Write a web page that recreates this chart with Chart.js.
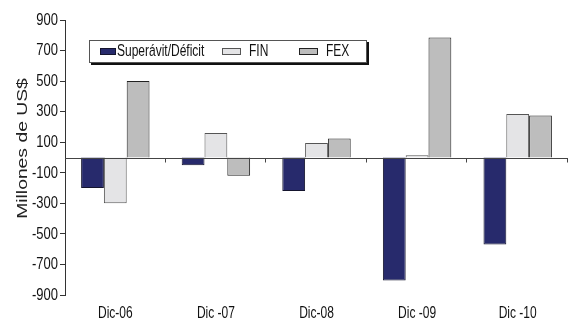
<!DOCTYPE html>
<html>
<head>
<meta charset="utf-8">
<script src="https://cdn.jsdelivr.net/npm/chart.js@4"></script>
<style>
  html, body { margin: 0; padding: 0; background: #fff; }
  #wrap { width: 574px; height: 324px; position: relative; }
</style>
</head>
<body>
<div id="wrap"><canvas id="bars"></canvas></div>
<script>
const categories = ['Dic-06', 'Dic -07', 'Dic-08', 'Dic -09', 'Dic -10'];
const superavit = [-200, -50, -220, -805, -570];
const fin = [-300, 160, 95, 15, 285];
const fex = [500, -120, 125, 785, 275];
const yTicks = [-900, -700, -500, -300, -100, 100, 300, 500, 700, 900];

const FONT = "'Liberation Sans', Arial, sans-serif";
const TALL = 1.32; // letters are drawn a bit taller than wide

// draws text stretched vertically around (x, y)
function tallText(ctx, text, x, y, size, align) {
  ctx.save();
  ctx.translate(x, y);
  ctx.scale(1, TALL);
  ctx.font = size + 'px ' + FONT;
  ctx.textAlign = align;
  ctx.textBaseline = 'middle';
  ctx.fillText(text, 0, 0);
  ctx.restore();
}

// zero line with the little category ticks under it
const zeroLine = {
  id: 'zeroLine',
  afterDatasetsDraw(chart) {
    const ctx = chart.ctx, x = chart.scales.x, y = chart.scales.y;
    const y0 = Math.round(y.getPixelForValue(0)) + 0.5;
    const step = (x.right - x.left) / categories.length;
    ctx.save();
    ctx.strokeStyle = '#444';
    ctx.lineWidth = 1;
    ctx.beginPath();
    ctx.moveTo(x.left, y0);
    ctx.lineTo(x.right, y0);
    for (let i = 1; i <= categories.length; i++) {
      const bx = Math.round(x.left + i * step) - 0.5;
      ctx.moveTo(bx, y0);
      ctx.lineTo(bx, y0 + 4);
    }
    ctx.stroke();
    ctx.restore();
  }
};

// axis labels and the y title
const axisText = {
  id: 'axisText',
  afterDraw(chart) {
    const ctx = chart.ctx, x = chart.scales.x, y = chart.scales.y;
    ctx.save();
    ctx.fillStyle = '#111';
    y.ticks.forEach(t => tallText(ctx, String(t.value), y.right - 7, y.getPixelForValue(t.value), 13, 'right'));
    categories.forEach((c, i) => tallText(ctx, x.getLabelForValue(i), x.getPixelForValue(i), 314, 12, 'center'));

    ctx.translate(23, (y.top + y.bottom) / 2 - 9);
    ctx.rotate(-Math.PI / 2);
    ctx.scale(1.38, 1);
    ctx.font = '14px ' + FONT;
    ctx.fillStyle = '#222';
    ctx.textAlign = 'center';
    ctx.textBaseline = 'middle';
    ctx.fillText('Millones de US$', 0, 0);
    ctx.restore();
  }
};

// boxed legend sitting inside the plot area
const boxLegend = {
  id: 'boxLegend',
  afterDraw(chart) {
    const ctx = chart.ctx, area = chart.chartArea;
    const left = area.left + 24, top = 40, w = 278, h = 23;
    const cols = [11, 133, 210];
    ctx.save();
    ctx.fillStyle = '#111';
    ctx.fillRect(left + 2, top + 2, w, h);
    ctx.fillStyle = '#fff';
    ctx.fillRect(left, top, w, h);
    ctx.strokeStyle = '#555';
    ctx.lineWidth = 1;
    ctx.strokeRect(left + 0.5, top + 0.5, w - 1, h - 1);
    chart.data.datasets.forEach((ds, i) => {
      const sx = left + cols[i], sy = top + 8;
      const sw = i === 0 ? 16 : 19;
      ctx.fillStyle = ds.backgroundColor;
      ctx.fillRect(sx, sy, sw, 7);
      ctx.strokeStyle = ds.borderColor;
      ctx.strokeRect(sx + 0.5, sy + 0.5, sw - 1, 6);
      ctx.fillStyle = '#111';
      tallText(ctx, ds.label, sx + sw + (i === 0 ? 1 : 8), top + h / 2, 12, 'left');
    });
    ctx.restore();
  }
};

new Chart(document.getElementById('bars'), {
  type: 'bar',
  data: {
    labels: categories,
    datasets: [
      { label: 'Superávit/Déficit', data: superavit, backgroundColor: '#272a6c', borderColor: '#15152e' },
      { label: 'FIN', data: fin, backgroundColor: '#e4e4e6', borderColor: '#555' },
      { label: 'FEX', data: fex, backgroundColor: '#bdbdbd', borderColor: '#222' }
    ]
  },
  options: {
    responsive: true,
    maintainAspectRatio: false,
    animation: false,
    layout: { padding: { top: 20, right: 6, left: 0, bottom: 0 } },
    datasets: {
      bar: { categoryPercentage: 0.68, barPercentage: 1.0, borderWidth: 1 }
    },
    plugins: {
      legend: { display: false },
      tooltip: { enabled: false }
    },
    scales: {
      x: {
        grid: { display: false },
        border: { display: false },
        ticks: { display: false },
        afterFit(s) { s.height = 29; }
      },
      y: {
        min: -900,
        max: 900,
        afterBuildTicks(s) { s.ticks = yTicks.map(v => ({ value: v })); },
        grid: { drawOnChartArea: false, tickLength: 5, color: '#333' },
        border: { color: '#333' },
        ticks: { display: false },
        afterFit(s) { s.width = 65; }
      }
    }
  },
  plugins: [zeroLine, axisText, boxLegend]
});
</script>
</body>
</html>
